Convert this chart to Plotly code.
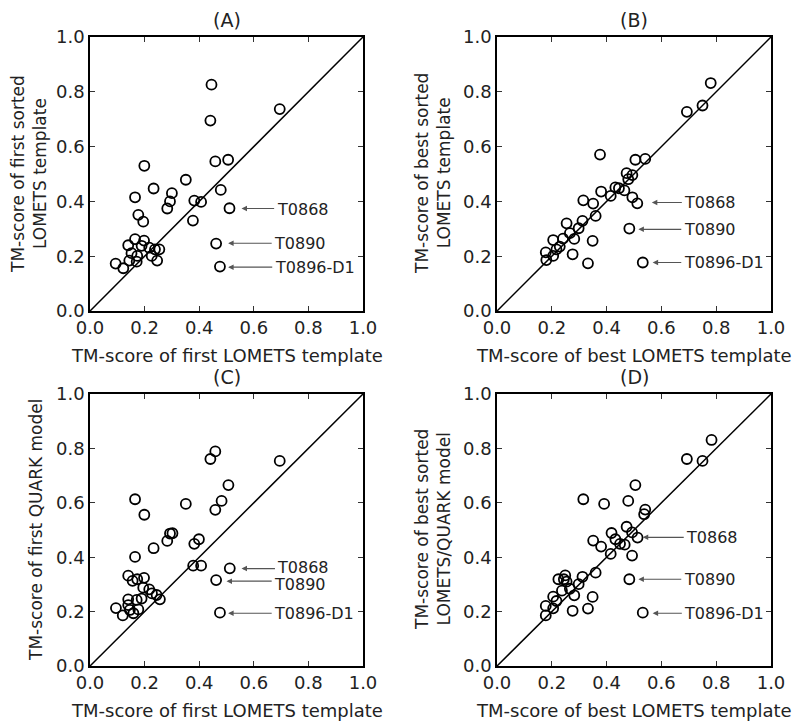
import plotly.graph_objects as go

# ---------------- data ----------------
a_x = [0.445, 0.695, 0.441, 0.459, 0.506, 0.199, 0.351, 0.233, 0.300, 0.479, 0.165, 0.293, 0.283, 0.382,
       0.407, 0.377, 0.511, 0.177, 0.195, 0.462, 0.476, 0.165, 0.198, 0.140, 0.189, 0.217, 0.238, 0.254,
       0.226, 0.246, 0.173, 0.152, 0.144, 0.171, 0.094, 0.122]
a_y = [0.826, 0.737, 0.695, 0.546, 0.552, 0.530, 0.479, 0.447, 0.430, 0.442, 0.415, 0.400, 0.374, 0.403,
       0.398, 0.330, 0.375, 0.351, 0.326, 0.246, 0.162, 0.262, 0.257, 0.240, 0.238, 0.231, 0.225, 0.225,
       0.201, 0.184, 0.201, 0.211, 0.184, 0.180, 0.173, 0.156]

b_x = [0.780, 0.693, 0.750, 0.376, 0.505, 0.541, 0.473, 0.494, 0.479, 0.432, 0.445, 0.465, 0.380, 0.415,
       0.494, 0.512, 0.315, 0.351, 0.360, 0.312, 0.298, 0.254, 0.266, 0.282, 0.241, 0.205, 0.229, 0.217,
       0.178, 0.180, 0.205, 0.349, 0.276, 0.332, 0.483, 0.532]
b_y = [0.832, 0.727, 0.750, 0.571, 0.552, 0.555, 0.503, 0.496, 0.481, 0.451, 0.448, 0.440, 0.436, 0.420,
       0.415, 0.393, 0.404, 0.392, 0.347, 0.329, 0.302, 0.320, 0.284, 0.263, 0.264, 0.259, 0.235, 0.225,
       0.214, 0.186, 0.201, 0.256, 0.207, 0.174, 0.301, 0.177]

c_x = [0.459, 0.441, 0.695, 0.507, 0.165, 0.482, 0.351, 0.459, 0.199, 0.293, 0.302, 0.283, 0.399, 0.382,
       0.233, 0.165, 0.378, 0.407, 0.512, 0.462, 0.476, 0.140, 0.173, 0.198, 0.156, 0.195, 0.217, 0.227,
       0.244, 0.256, 0.140, 0.189, 0.171, 0.140, 0.095, 0.146, 0.177, 0.159, 0.120]
c_y = [0.789, 0.761, 0.754, 0.665, 0.613, 0.607, 0.596, 0.574, 0.556, 0.487, 0.488, 0.460, 0.466, 0.449,
       0.433, 0.401, 0.369, 0.369, 0.359, 0.316, 0.196, 0.332, 0.319, 0.324, 0.313, 0.288, 0.282, 0.267,
       0.261, 0.245, 0.245, 0.248, 0.243, 0.224, 0.213, 0.206, 0.208, 0.194, 0.186]

d_x = [0.783, 0.693, 0.750, 0.505, 0.315, 0.391, 0.479, 0.541, 0.537, 0.473, 0.493, 0.513, 0.418, 0.432,
       0.449, 0.466, 0.351, 0.380, 0.415, 0.493, 0.360, 0.312, 0.298, 0.249, 0.224, 0.244, 0.254, 0.266,
       0.237, 0.282, 0.205, 0.217, 0.178, 0.178, 0.205, 0.349, 0.276, 0.332, 0.483, 0.532]
d_y = [0.831, 0.761, 0.754, 0.665, 0.613, 0.596, 0.607, 0.575, 0.558, 0.512, 0.491, 0.472, 0.489, 0.466,
       0.449, 0.446, 0.461, 0.439, 0.412, 0.406, 0.343, 0.328, 0.301, 0.333, 0.319, 0.319, 0.310, 0.284,
       0.277, 0.260, 0.255, 0.239, 0.221, 0.186, 0.212, 0.254, 0.203, 0.211, 0.319, 0.196]

diag = [0.0, 1.0]
tick_vals = [0.0, 0.2, 0.4, 0.6, 0.8, 1.0]
tick_text = ["0.0", "0.2", "0.4", "0.6", "0.8", "1.0"]

target_names = ["T0868", "T0890", "T0896-D1"]
# per panel: arrow y, arrow head x, arrow tail x, label y
a_ann = [(0.374, 0.555, 0.680, 0.371), (0.247, 0.506, 0.671, 0.247), (0.160, 0.506, 0.673, 0.160)]
b_ann = [(0.396, 0.565, 0.680, 0.396), (0.298, 0.516, 0.678, 0.298), (0.177, 0.568, 0.678, 0.177)]
c_ann = [(0.358, 0.555, 0.683, 0.362), (0.312, 0.500, 0.671, 0.300), (0.194, 0.506, 0.671, 0.194)]
d_ann = [(0.473, 0.532, 0.687, 0.473), (0.319, 0.516, 0.678, 0.319), (0.194, 0.568, 0.680, 0.194)]

panel_titles = ["(A)", "(B)", "(C)", "(D)"]
x_titles = ["TM-score of first LOMETS template", "TM-score of best LOMETS template",
            "TM-score of first LOMETS template", "TM-score of best LOMETS template"]
y_titles = ["TM-score of first sorted<br>LOMETS template", "TM-score of best sorted<br>LOMETS template",
            "TM-score of first QUARK model", "TM-score of best sorted<br>LOMETS/QUARK model"]

# ---------------- layout geometry (pixels; page body adds an 8px offset) ----------------
W, H = 800, 728
boxes = [(82, 355, 29, 303), (489, 763, 29, 303), (82, 355, 386, 658), (489, 763, 386, 658)]
ytitle_x = [21, 425, 28, 425]

FONT = "DejaVu Sans"
fig = go.Figure()
annotations = []
datasets = [(a_x, a_y, a_ann), (b_x, b_y, b_ann), (c_x, c_y, c_ann), (d_x, d_y, d_ann)]

layout_axes = {}
for i, ((xs, ys, anns), (l, r, t, b)) in enumerate(zip(datasets, boxes)):
    n = i + 1
    xa = "x" if n == 1 else f"x{n}"
    ya = "y" if n == 1 else f"y{n}"
    fig.add_trace(go.Scatter(x=diag, y=diag, mode="lines", line=dict(color="black", width=1.5),
                             xaxis=xa, yaxis=ya, showlegend=False, hoverinfo="skip"))
    fig.add_trace(go.Scatter(x=xs, y=ys, mode="markers", xaxis=xa, yaxis=ya, showlegend=False,
                             marker=dict(symbol="circle-open", size=10, color="black",
                                         line=dict(color="black", width=1.8))))
    axcommon = dict(range=[0, 1], tickvals=tick_vals, ticktext=tick_text, ticks="inside", ticklen=5,
                    tickwidth=1, tickcolor="#333", showline=True, linecolor="black", linewidth=1.5,
                    mirror="allticks", showgrid=False, zeroline=False, automargin=False,
                    tickfont=dict(family=FONT, size=18, color="#222"))
    layout_axes["xaxis" if n == 1 else f"xaxis{n}"] = dict(
        axcommon, domain=[l / W, r / W], anchor=ya)
    layout_axes["yaxis" if n == 1 else f"yaxis{n}"] = dict(
        axcommon, domain=[1 - b / H, 1 - t / H], anchor=xa)

    annotations.append(dict(text=panel_titles[i], x=(l + r) / 2 / W, y=1 - (t - 17) / H,
                            xref="paper", yref="paper", showarrow=False, xanchor="center",
                            yanchor="middle", font=dict(family=FONT, size=19, color="#222")))
    annotations.append(dict(text=x_titles[i], x=(l + r) / 2 / W, y=1 - (b + 44) / H,
                            xref="paper", yref="paper", showarrow=False, xanchor="center",
                            yanchor="middle", font=dict(family=FONT, size=18, color="#222")))
    annotations.append(dict(text=y_titles[i], x=ytitle_x[i] / W, y=1 - (t + b) / 2 / H,
                            xref="paper", yref="paper", showarrow=False, xanchor="center",
                            yanchor="middle", textangle=-90,
                            font=dict(family=FONT, size=17, color="#222")))
    for name, (ay_, hx, tx, ly) in zip(target_names, anns):
        annotations.append(dict(text="", x=hx, y=ay_, ax=tx, ay=ay_, xref=xa, yref=ya,
                                axref=xa, ayref=ya, showarrow=True, arrowhead=2, arrowsize=1,
                                arrowwidth=1.1, arrowcolor="#555"))
        annotations.append(dict(text=name, x=tx, y=ly, xref=xa, yref=ya, showarrow=False,
                                xanchor="left", yanchor="middle", xshift=-1,
                                font=dict(family=FONT, size=16, color="#222")))

fig.update_layout(template="none", width=W, height=H, margin=dict(l=0, r=0, t=0, b=0, pad=0),
                  paper_bgcolor="white", plot_bgcolor="white",
                  annotations=annotations, **layout_axes)

fig.write_html("out.html")
